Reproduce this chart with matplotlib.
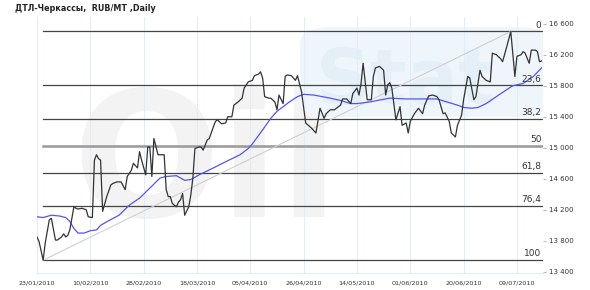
import numpy as np
import matplotlib
matplotlib.use("Agg")
import matplotlib.pyplot as plt
from matplotlib.patches import FancyBboxPatch

# данные: номер торговой сессии и цена, RUB/MT
sess = [0, 1, 3, 4, 6, 7, 9, 10, 12, 13, 14, 15, 16, 18, 19, 20, 22, 24, 25, 27,
        28, 29, 30, 31, 32, 34, 36, 37, 39, 41, 43, 44, 46, 47, 49, 50, 51, 53, 54, 55,
        56, 57, 59, 60, 62, 63, 64, 65, 66, 68, 69, 70, 71, 72, 74, 75, 76, 77, 79, 80,
        81, 83, 84, 86, 87, 88, 90, 92, 93, 95, 96, 98, 100, 101, 103, 105, 106, 108, 109, 110,
        111, 113, 114, 116, 117, 118, 120, 121, 122, 124, 126, 127, 129, 131, 134, 136, 138, 140, 141, 143,
        145, 148, 149, 151, 153, 154, 156, 157, 158, 159, 161, 163, 164, 165, 167, 169, 170, 171, 172, 173,
        175, 177, 178, 180, 181, 182, 184, 186, 188, 189, 191, 193, 195, 196, 198, 199, 201, 202, 204, 205,
        207, 208, 210, 211, 213, 214, 216, 217, 219, 221, 222, 224, 226, 227, 229, 231, 233, 234, 236, 237,
        238, 240, 241, 243, 244, 245, 246]
price = [13850, 13790, 13550, 13770, 14070, 14090, 13810, 13810, 13850, 13890, 13850, 13870, 13940, 14240, 14220, 14210, 14220, 14200, 14110, 14100,
         14840, 14910, 14860, 14840, 14180, 14370, 14520, 14540, 14560, 14560, 14460, 14630, 14710, 14800, 14740, 14950, 14840, 14650, 15010, 15010,
         14630, 15120, 14910, 14910, 14910, 14460, 14370, 14370, 14280, 14240, 14300, 14330, 14410, 14130, 14240, 14390, 14610, 14990, 15010, 15010,
         14970, 15100, 15120, 15270, 15340, 15360, 15310, 15320, 15400, 15400, 15550, 15590, 15640, 15770, 15850, 15870, 15930, 15950, 15980, 15900,
         15660, 15640, 15640, 15590, 15490, 15680, 15570, 15920, 15940, 15930, 15870, 15930, 15720, 15320, 15250, 15190, 15510, 15380, 15440, 15490,
         15490, 15550, 15630, 15630, 15570, 15700, 15770, 15680, 15830, 16090, 15620, 15620, 15920, 16030, 16050, 16000, 15680, 15810, 15840, 15770,
         15360, 15530, 15290, 15320, 15190, 15340, 15440, 15510, 15440, 15550, 15670, 15680, 15660, 15620, 15440, 15450, 15340, 15190, 15140, 15290,
         15420, 15620, 15920, 15900, 15620, 15660, 16000, 15920, 15870, 15850, 16220, 16200, 16150, 16110, 16300, 16500, 15920, 16180, 16200, 16240,
         16220, 16090, 16260, 16260, 16240, 16110, 16120]

ma_sess = [0, 3, 7, 11, 14, 16, 18, 20, 23, 26, 29, 31, 35, 40, 45, 50, 55, 60, 63, 68,
           72, 75, 79, 86, 92, 99, 103, 105, 110, 114, 117, 120, 123, 127, 130, 135, 143, 148, 153, 156,
           162, 172, 180, 188, 195, 200, 205, 208, 212, 215, 219, 224, 229, 232, 237, 242, 246]
ma = [14110, 14100, 14130, 14120, 14100, 14050, 13960, 13900, 13900, 13930, 13940, 14000, 14060, 14130, 14260, 14350, 14480, 14610, 14630, 14640,
      14580, 14590, 14650, 14740, 14820, 14910, 14990, 15050, 15230, 15380, 15470, 15530, 15590, 15660, 15690, 15680, 15640, 15610, 15570, 15570,
      15590, 15640, 15630, 15630, 15630, 15590, 15550, 15520, 15510, 15520, 15570, 15660, 15750, 15800, 15830, 15920, 16030]

date_labels = ["23/01/2010", "10/02/2010", "28/02/2010", "18/03/2010", "05/04/2010",
               "26/04/2010", "14/05/2010", "01/06/2010", "20/06/2010", "09/07/2010"]
fib_levels = [0, 23.6, 38.2, 50, 61.8, 76.4, 100]
fib_names = ["0", "23,6", "38,2", "50", "61,8", "76,4", "100"]
yticks = [13400, 13800, 14200, 14600, 15000, 15400, 15800, 16200, 16600]

fig = plt.figure(figsize=(5.9, 2.9), dpi=100)
ax = fig.add_axes([0.0627, 0.0576, 0.8576, 0.8838])

# фон-логотип
ax.text(0.07, 0.22, "Oil", transform=ax.transAxes, fontsize=125, fontweight="bold",
        color="#f3f3f3", zorder=0)
box = FancyBboxPatch((0.53, 0.62), 0.47, 0.33, boxstyle="round,pad=0.01,rounding_size=0.06",
                     transform=ax.transAxes, fc="#eef5fb", ec="none", zorder=0)
ax.add_patch(box)
ax.text(0.55, 0.66, "Stat", transform=ax.transAxes, fontsize=55, fontweight="bold",
        color="#e4eff8", zorder=0)

lo_i = int(np.argmin(price))
hi_i = int(np.argmax(price))
lo, hi = price[lo_i], price[hi_i]
x_end = 246.7

for lev, name in zip(fib_levels, fib_names):
    yv = hi - (hi - lo) * lev / 100
    if lev == 50:
        ax.plot([sess[lo_i], x_end], [yv, yv], color="#999999", lw=1.8, zorder=2)
    else:
        ax.plot([sess[lo_i], x_end], [yv, yv], color="#444444", lw=0.9, zorder=2)
    ax.text(x_end - 0.8, yv + 25, name, ha="right", va="bottom", fontsize=6.5,
            color="#333333", zorder=5)

ax.plot([sess[lo_i], sess[hi_i]], [lo, hi], color="#d0d0d0", lw=0.8, zorder=3)
ax.plot(ma_sess, ma, color="#5555ee", lw=0.9, zorder=4)
ax.plot(sess, price, color="#333333", lw=0.9, zorder=5)

ax.set_xlim(0, x_end)
ax.set_ylim(13381, 16687)
ax.set_xticks(np.arange(len(date_labels)) * 26)
ax.set_xticklabels(date_labels, fontsize=4.6, color="#333333")
ax.set_yticks(yticks)
ax.set_yticklabels([f"{v:,}".replace(",", " ") for v in yticks], fontsize=5, color="#333333")
ax.yaxis.tick_right()
ax.tick_params(axis="x", length=0, pad=5)
ax.tick_params(axis="y", length=2.5, width=0.6, color="#aaaaaa", pad=2)
ax.grid(axis="x", color="#e3edf5", lw=0.8, zorder=1)
for side in ["top", "right"]:
    ax.spines[side].set_visible(False)
ax.spines["left"].set_color("#e3edf5")
ax.spines["bottom"].set_color("#e3edf5")

fig.text(0.025, 0.985, "ДТЛ-Черкассы,  RUB/MT ,Daily", fontsize=5.8, fontweight="bold",
         color="#222222", va="top")

fig.savefig("out.png", dpi=100)
